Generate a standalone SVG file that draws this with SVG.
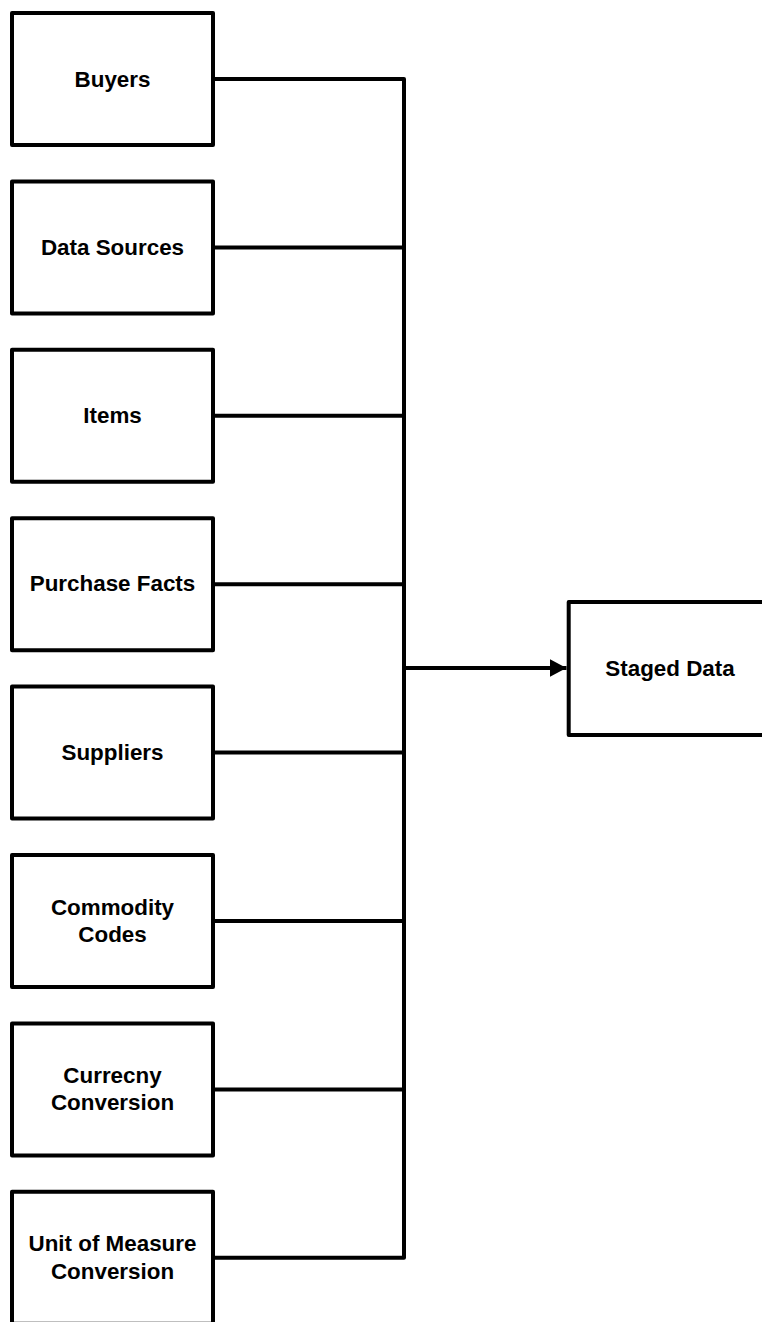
<svg xmlns="http://www.w3.org/2000/svg" width="762" height="1322" viewBox="0 0 762 1322">
<style>
.box{fill:#fff;stroke:#000;stroke-width:4;stroke-linejoin:round}
.lbl{font-family:"Liberation Sans",Arial,sans-serif;font-weight:bold;font-size:22.4px;text-anchor:middle;fill:#000}
.con{fill:none;stroke:#000;stroke-width:4;stroke-linejoin:round}
</style>
<defs>
<marker id="arr" markerWidth="17" markerHeight="18" refX="17" refY="9" orient="auto" markerUnits="userSpaceOnUse">
<path d="M0,0 L17,9 L0,18 Z" fill="#000"/>
</marker>
</defs>
<rect x="0" y="0" width="762" height="1322" fill="#fff"/>
<g id="connectors">
<path class="con" d="M213,79 H404 V1257.8 H213"/>
<path class="con" d="M213,247.4 H404"/>
<path class="con" d="M213,415.8 H404"/>
<path class="con" d="M213,584.2 H404"/>
<path class="con" d="M213,752.6 H404"/>
<path class="con" d="M213,921 H404"/>
<path class="con" d="M213,1089.4 H404"/>
<path class="con" d="M404,668 H566.5" marker-end="url(#arr)"/>
</g>
<g id="buyers"><rect class="box" x="12" y="13" width="201" height="132"/><text class="lbl" x="112.5" y="86.5">Buyers</text></g>
<g id="datasources"><rect class="box" x="12" y="181.4" width="201" height="132"/><text class="lbl" x="112.5" y="254.9">Data Sources</text></g>
<g id="items"><rect class="box" x="12" y="349.8" width="201" height="132"/><text class="lbl" x="112.5" y="423.3">Items</text></g>
<g id="purchasefacts"><rect class="box" x="12" y="518.2" width="201" height="132"/><text class="lbl" x="112.5" y="591">Purchase Facts</text></g>
<g id="suppliers"><rect class="box" x="12" y="686.6" width="201" height="132"/><text class="lbl" x="112.5" y="760">Suppliers</text></g>
<g id="commodity"><rect class="box" x="12" y="855" width="201" height="132"/><text class="lbl" x="112.5" y="914.5">Commodity</text><text class="lbl" x="112.5" y="942">Codes</text></g>
<g id="currency"><rect class="box" x="12" y="1023.4" width="201" height="132"/><text class="lbl" x="112.5" y="1082.9">Currecny</text><text class="lbl" x="112.5" y="1110.4">Conversion</text></g>
<g id="uom"><rect class="box" x="12" y="1191.8" width="201" height="132"/><text class="lbl" x="112.5" y="1251">Unit of Measure</text><text class="lbl" x="112.5" y="1278.5">Conversion</text></g>
<g id="staged"><rect class="box" x="568.7" y="602" width="204" height="133"/><text class="lbl" x="670" y="676">Staged Data</text></g>
</svg>
